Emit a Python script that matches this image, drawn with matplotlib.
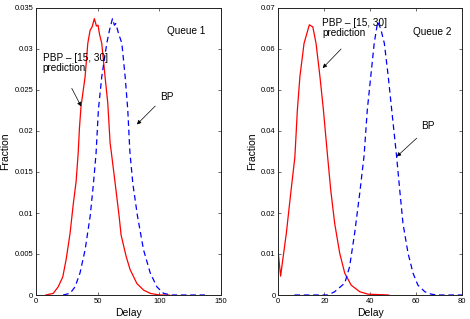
import matplotlib
matplotlib.use("Agg")
import matplotlib.pyplot as plt

# %% DATA

q1_pbp_delay = [8, 14, 18, 21.7, 24.4, 27.6, 30.3, 32.5, 34.2, 35.2, 36.5, 39.8, 42, 43.9,
                45.5, 47.3, 49, 50.3, 51.5, 53.3, 56, 58.2, 60.1, 61, 64.2, 67.4, 69, 73.1,
                76.3, 81.8, 87.2, 92.6, 100, 108]
q1_pbp_frac = [0, 0.0002, 0.001, 0.0022, 0.0043, 0.0075, 0.0112, 0.0138, 0.0173, 0.0203,
               0.023, 0.0266, 0.0307, 0.0323, 0.0327, 0.0337, 0.0328, 0.0329, 0.0318, 0.0307,
               0.0266, 0.0234, 0.0185, 0.0175, 0.0136, 0.0096, 0.0073, 0.0047, 0.0031,
               0.0014, 0.0006, 0.0002, 0, 0]

q1_bp_delay = [22, 27.6, 31.7, 35.7, 39.8, 43.9, 46.6, 48.7, 50.6, 53.3, 57.4, 59.6, 62,
               63.6, 64.7, 66.9, 69.6, 72.3, 74.4, 76.1, 78.5, 82.3, 87.2, 92.6, 98, 103.4,
               110, 137]
q1_bp_frac = [0, 0.0002, 0.001, 0.0027, 0.0055, 0.0096, 0.0136, 0.0173, 0.0226, 0.0266,
              0.0307, 0.0323, 0.0337, 0.0329, 0.0331, 0.0319, 0.0307, 0.0266, 0.0226,
              0.0175, 0.0136, 0.0096, 0.0055, 0.0027, 0.001, 0.0002, 0, 0]

q2_pbp_delay = [0, 1, 3.5, 5.4, 7.2, 8.3, 9.4, 11.2, 13.5, 15, 16.4, 18.1, 19.6, 21.4, 22.8,
                24.5, 26.7, 28.9, 31.7, 35.4, 39, 48]
q2_pbp_frac = [0.0102, 0.0046, 0.0151, 0.0248, 0.0336, 0.0452, 0.0533, 0.0614, 0.0659,
               0.0654, 0.0614, 0.0533, 0.0452, 0.034, 0.0256, 0.0175, 0.0102, 0.0053,
               0.0024, 0.0008, 0.0002, 0]

q2_bp_delay = [7, 21.6, 24.5, 28.9, 31, 33.2, 35.4, 37.3, 38.7, 40.2, 41.7, 43.2, 44.5, 46.1,
               47.8, 49.3, 51.4, 52.8, 54.2, 56.4, 58.6, 60.7, 63.7, 66.5, 69, 80]
q2_bp_frac = [0, 0, 0.0008, 0.0029, 0.0069, 0.0151, 0.0248, 0.034, 0.0452, 0.0533, 0.0614,
              0.0666, 0.065, 0.0614, 0.0533, 0.0452, 0.034, 0.0256, 0.0175, 0.0102, 0.0053,
              0.0024, 0.0008, 0.0002, 0, 0]

q1_xticks = [0, 50, 100, 150]
q1_yticks = [0, 0.005, 0.01, 0.015, 0.02, 0.025, 0.03, 0.035]
q2_xticks = [0, 20, 40, 60, 80]
q2_yticks = [0, 0.01, 0.02, 0.03, 0.04, 0.05, 0.06, 0.07]

# %% STYLE
plt.rcParams["font.family"] = ["Liberation Sans", "DejaVu Sans"]

fig = plt.figure(figsize=(4.7, 3.19), dpi=100)
ax1 = fig.add_axes([36 / 470, 24 / 319, 185 / 470, 287 / 319])
ax2 = fig.add_axes([278.3 / 470, 24 / 319, 184 / 470, 287 / 319])


def style_axis(ax, xticks, yticks):
    ax.set_xlim(xticks[0], xticks[-1])
    ax.set_ylim(yticks[0], yticks[-1])
    ax.set_xticks(xticks)
    ax.set_yticks(yticks)
    ax.set_yticklabels(["%g" % v for v in yticks])
    ax.tick_params(direction="in", top=True, right=True, length=2.5, width=0.6,
                   labelsize=5.5, pad=2, color="#555555")
    for s in ax.spines.values():
        s.set_linewidth(0.7)
        s.set_color("#222222")
    ax.set_xlabel("Delay", fontsize=7.5, labelpad=2)
    ax.set_ylabel("Fraction", fontsize=7.5, labelpad=3)


arrow = dict(arrowstyle="-|>", color="black", lw=0.5, mutation_scale=6, shrinkA=0, shrinkB=0)

# %% QUEUE 1
ax1.plot(q1_pbp_delay, q1_pbp_frac, color="#ff0000", lw=0.9)
ax1.plot(q1_bp_delay, q1_bp_frac, color="#0000ff", lw=0.9, dashes=(4.5, 3))
style_axis(ax1, q1_xticks, q1_yticks)
ax1.text(106.4, 0.0322, "Queue 1", fontsize=7.2, va="center")
ax1.text(5.4, 0.0283, "PBP \u2013 [15, 30]\nprediction", fontsize=7.2, va="center",
         linespacing=1.1)
ax1.annotate("", xy=(36.6, 0.0230), xytext=(29, 0.0252), arrowprops=arrow)
ax1.text(100.7, 0.0242, "BP", fontsize=7.2, va="center")
ax1.annotate("", xy=(81.8, 0.0208), xytext=(96.7, 0.02305), arrowprops=arrow)

# %% QUEUE 2
ax2.plot(q2_pbp_delay, q2_pbp_frac, color="#ff0000", lw=0.9)
ax2.plot(q2_bp_delay, q2_bp_frac, color="#0000ff", lw=0.9, dashes=(4.5, 3))
style_axis(ax2, q2_xticks, q2_yticks)
ax2.text(58.4, 0.0641, "Queue 2", fontsize=7.2, va="center")
ax2.text(19.1, 0.0651, "PBP \u2013 [15, 30]\nprediction", fontsize=7.2, va="center",
         linespacing=1.1)
ax2.annotate("", xy=(19.3, 0.05535), xytext=(27.3, 0.0600), arrowprops=arrow)
ax2.text(62, 0.0413, "BP", fontsize=7.2, va="center")
ax2.annotate("", xy=(51.5, 0.03377), xytext=(60.2, 0.03826), arrowprops=arrow)

fig.savefig("out.png", dpi=100)
